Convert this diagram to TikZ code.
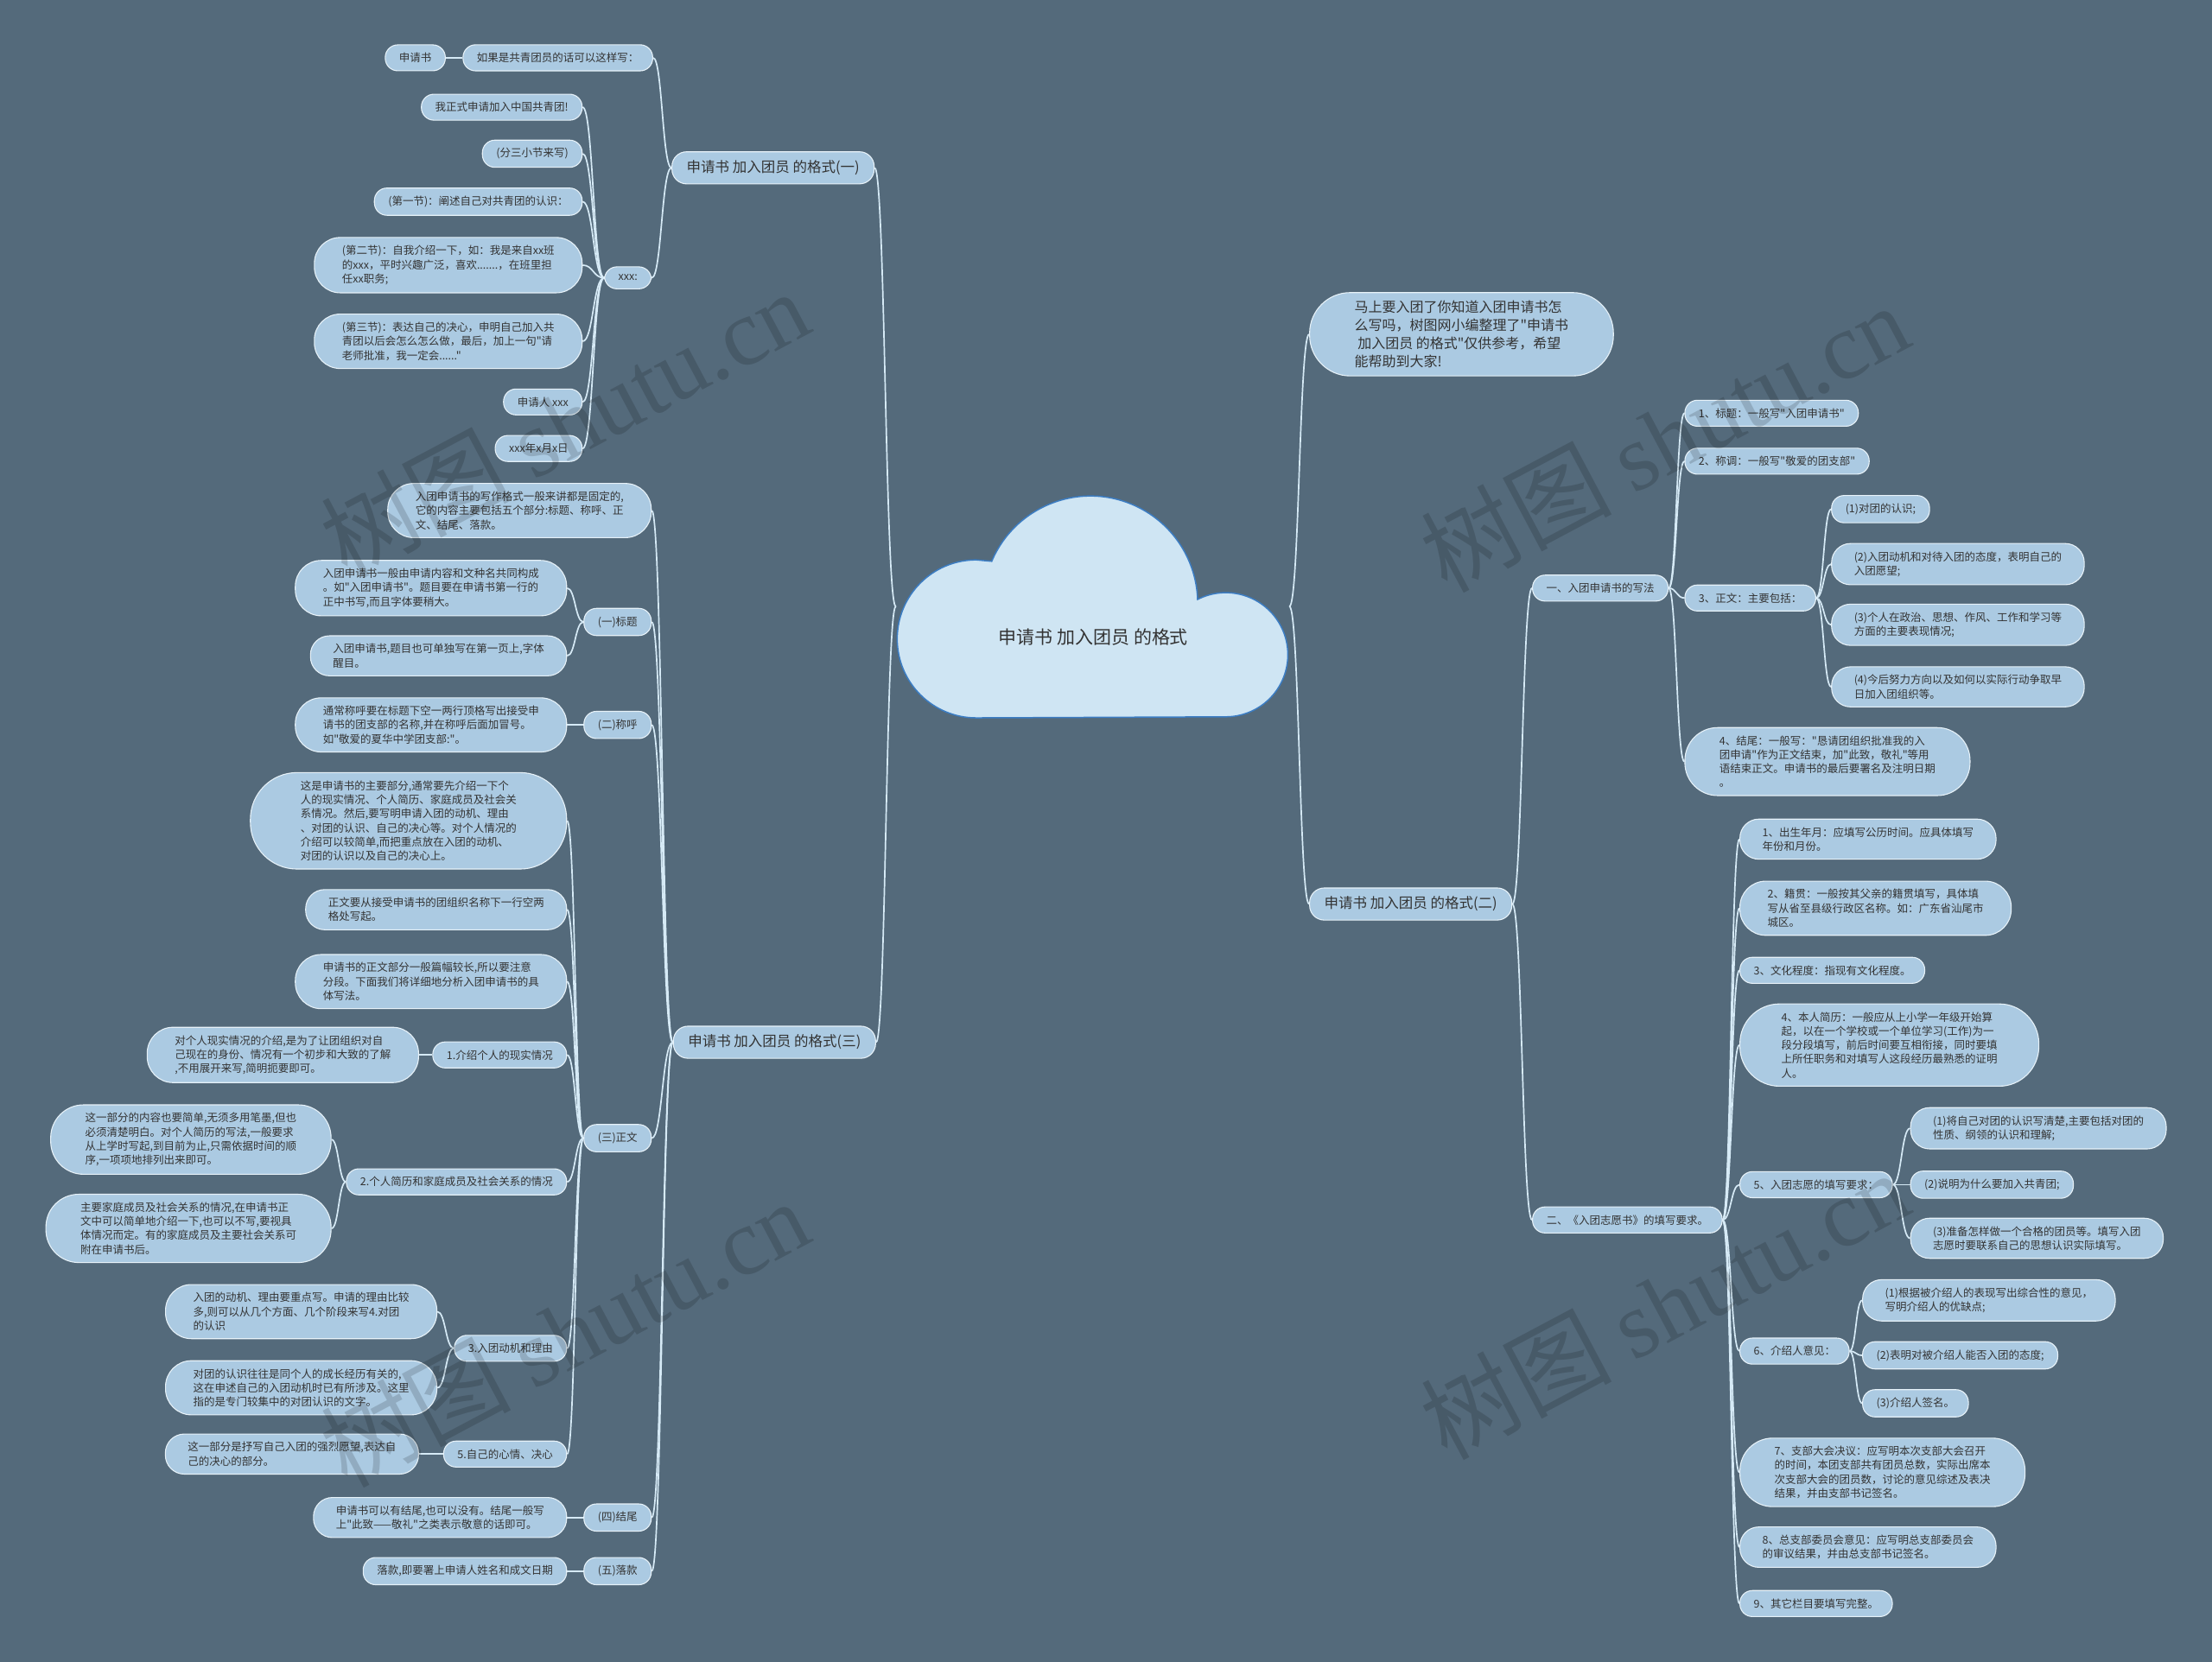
\documentclass[tikz,border=0pt]{standalone}
\usepackage{fontspec}
\setmainfont{Noto Sans CJK SC}[Ligatures=TeXOff]
\newfontfamily\wmlat{Liberation Serif}
\usetikzlibrary{calc,backgrounds}
\definecolor{bg}{HTML}{546A7B}
\definecolor{nfill}{HTML}{ABCAE2}
\definecolor{nline}{HTML}{E6F1F8}
\definecolor{cline}{HTML}{D6EAF6}
\definecolor{txt}{HTML}{333333}
\definecolor{cloudfill}{HTML}{CFE5F3}
\definecolor{cloudline}{HTML}{3C7DC3}
\tikzset{
 nd/.style={rectangle, fill=nfill, draw=nline, line width=1.1pt, inner ysep=9.25pt, text=txt, align=left, font=\fontsize{12.5}{16.3}\selectfont},
 pa/.style={nd, inner xsep=16pt, rounded corners=14.5pt},
 pb/.style={nd, inner xsep=26pt, rounded corners=22pt},
 pc/.style={nd, inner xsep=32pt, rounded corners=30pt},
 pd/.style={nd, inner xsep=40pt, rounded corners=38pt},
 pe/.style={nd, inner xsep=48pt, rounded corners=46pt},
 pf/.style={nd, inner xsep=58pt, rounded corners=54pt},
 br/.style={nd, inner ysep=10pt, inner xsep=17pt, rounded corners=17pt, font=\fontsize{16.5}{21}\selectfont},
 intro/.style={nd, inner ysep=9pt, inner xsep=52pt, rounded corners=47pt, font=\fontsize{16}{21.2}\selectfont},
 cn/.style={draw=cline, line width=1.7pt},
 wm/.style={rotate=28, text=black, text opacity=0.15, font=\fontsize{110}{120}\selectfont},
}
\newcommand\conn[2]{\draw[cn] let \p1=(#1), \p2=(#2) in (\p1) .. controls (0.5*\x1+0.5*\x2,\y1) and (0.5*\x1+0.5*\x2,\y2) .. (\p2);}
\begin{document}
\begin{tikzpicture}[x=1.6327pt,y=-1.6327pt]
\useasboundingbox (0,0) rectangle (1568,1178.4);
% cloud
\draw[fill=cloudfill, draw=cloudline, line width=1.5pt]
 (692,509) arc[start angle=90, end angle=270, radius=56]
 -- (703,398) arc[start angle=-157, end angle=-2, radius=76]
 arc[start angle=-117, end angle=90, radius=44] -- cycle;
\node[font=\fontsize{21}{25}\selectfont, text=txt] (root) at (775,452) {申请书 加入团员 的格式};
\coordinate (cl) at (635,430);
\coordinate (cr) at (914,430);
% left branch 1
\node[br, anchor=east] (l1) at (620,119) {申请书 加入团员 的格式(一)};
\node[pa, anchor=east] (l1a) at (463,41) {如果是共青团员的话可以这样写：};
\node[pa, anchor=east] (l1a1) at (316,41) {申请书};
\node[pa, anchor=east] (l1b) at (462,197) {xxx:};
\node[pa, anchor=east] (x1) at (413,76) {我正式申请加入中国共青团!};
\node[pa, anchor=east] (x2) at (413,109) {(分三小节来写)};
\node[pa, anchor=east] (x3) at (413,143) {(第一节)：阐述自己对共青团的认识：};
\node[pc, anchor=east] (x4) at (413,188) {(第二节)：自我介绍一下，如：我是来自xx班\\的xxx，平时兴趣广泛，喜欢.......，在班里担\\任xx职务;};
\node[pc, anchor=east] (x5) at (413,242) {(第三节)：表达自己的决心，申明自己加入共\\青团以后会怎么怎么做，最后，加上一句"请\\老师批准，我一定会......"};
\node[pa, anchor=east] (x6) at (413,285) {申请人 xxx};
\node[pa, anchor=east] (x7) at (413,318) {xxx年x月x日};
% left branch 3
\node[br, anchor=east] (l3) at (621,739) {申请书 加入团员 的格式(三)};
\node[pc, anchor=east] (t0) at (462,362) {入团申请书的写作格式一般来讲都是固定的,\\它的内容主要包括五个部分:标题、称呼、正\\文、结尾、落款。};
\node[pa, anchor=east] (t1) at (462,441) {(一)标题};
\node[pc, anchor=east] (t1a) at (402,417) {入团申请书一般由申请内容和文种名共同构成\\。如"入团申请书"。题目要在申请书第一行的\\正中书写,而且字体要稍大。};
\node[pb, anchor=east] (t1b) at (402,465) {入团申请书,题目也可单独写在第一页上,字体\\醒目。};
\node[pa, anchor=east] (t2) at (462,514) {(二)称呼};
\node[pc, anchor=east] (t2a) at (402,514) {通常称呼要在标题下空一两行顶格写出接受申\\请书的团支部的名称,并在称呼后面加冒号。\\如"敬爱的夏华中学团支部:"。};
\node[pa, anchor=east] (t3) at (462,807) {(三)正文};
\node[pf, anchor=east] (t3a) at (402,582) {这是申请书的主要部分,通常要先介绍一下个\\人的现实情况、个人简历、家庭成员及社会关\\系情况。然后,要写明申请入团的动机、理由\\、对团的认识、自己的决心等。对个人情况的\\介绍可以较简单,而把重点放在入团的动机、\\对团的认识以及自己的决心上。};
\node[pb, anchor=east] (t3b) at (402,645) {正文要从接受申请书的团组织名称下一行空两\\格处写起。};
\node[pc, anchor=east] (t3c) at (402,696) {申请书的正文部分一般篇幅较长,所以要注意\\分段。下面我们将详细地分析入团申请书的具\\体写法。};
\node[pa, anchor=east] (t3d) at (402,748) {1.介绍个人的现实情况};
\node[pc, anchor=east] (t3d1) at (297,748) {对个人现实情况的介绍,是为了让团组织对自\\己现在的身份、情况有一个初步和大致的了解\\,不用展开来写,简明扼要即可。};
\node[pa, anchor=east] (t3e) at (402,838) {2.个人简历和家庭成员及社会关系的情况};
\node[pd, anchor=east] (t3e1) at (235,808) {这一部分的内容也要简单,无须多用笔墨,但也\\必须清楚明白。对个人简历的写法,一般要求\\从上学时写起,到目前为止,只需依据时间的顺\\序,一项项地排列出来即可。};
\node[pd, anchor=east] (t3e2) at (235,871) {主要家庭成员及社会关系的情况,在申请书正\\文中可以简单地介绍一下,也可以不写,要视具\\体情况而定。有的家庭成员及主要社会关系可\\附在申请书后。};
\node[pa, anchor=east] (t3f) at (402,956) {3.入团动机和理由};
\node[pc, anchor=east] (t3f1) at (310,930) {入团的动机、理由要重点写。申请的理由比较\\多,则可以从几个方面、几个阶段来写4.对团\\的认识};
\node[pc, anchor=east] (t3f2) at (310,984) {对团的认识往往是同个人的成长经历有关的,\\这在申述自己的入团动机时已有所涉及。这里\\指的是专门较集中的对团认识的文字。};
\node[pa, anchor=east] (t3g) at (402,1031) {5.自己的心情、决心};
\node[pb, anchor=east] (t3g1) at (297,1031) {这一部分是抒写自己入团的强烈愿望,表达自\\己的决心的部分。};
\node[pa, anchor=east] (t4) at (462,1076) {(四)结尾};
\node[pb, anchor=east] (t4a) at (402,1076) {申请书可以有结尾,也可以没有。结尾一般写\\上"此致——敬礼"之类表示敬意的话即可。};
\node[pa, anchor=east] (t5) at (462,1114) {(五)落款};
\node[pa, anchor=east] (t5a) at (402,1114) {落款,即要署上申请人姓名和成文日期};
% right side
\node[intro, anchor=west] (intro) at (928,237) {马上要入团了你知道入团申请书怎\\么写吗，树图网小编整理了"申请书\\~加入团员 的格式"仅供参考，希望\\能帮助到大家!};
\node[br, anchor=west] (r2) at (928,641) {申请书 加入团员 的格式(二)};
\node[pa, anchor=west] (r1) at (1086,417) {一、入团申请书的写法};
\node[pa, anchor=west] (r1a) at (1194,293) {1、标题：一般写"入团申请书"};
\node[pa, anchor=west] (r1b) at (1194,327) {2、称调：一般写"敬爱的团支部"};
\node[pa, anchor=west] (r1c) at (1194,424) {3、正文：主要包括：};
\node[pa, anchor=west] (r1c1) at (1298,361) {(1)对团的认识;};
\node[pb, anchor=west] (r1c2) at (1298,400) {(2)入团动机和对待入团的态度，表明自己的\\入团愿望;};
\node[pb, anchor=west] (r1c3) at (1298,443) {(3)个人在政治、思想、作风、工作和学习等\\方面的主要表现情况;};
\node[pb, anchor=west] (r1c4) at (1298,487) {(4)今后努力方向以及如何以实际行动争取早\\日加入团组织等。};
\node[pd, anchor=west] (r1d) at (1194,540) {4、结尾：一般写："恳请团组织批准我的入\\团申请"作为正文结束，加"此致，敬礼"等用\\语结束正文。申请书的最后要署名及注明日期\\。};
\node[pa, anchor=west] (r2n) at (1086,865) {二、《入团志愿书》的填写要求。};
\node[pb, anchor=west] (s1) at (1233,595) {1、出生年月：应填写公历时间。应具体填写\\年份和月份。};
\node[pc, anchor=west] (s2) at (1233,644) {2、籍贯：一般按其父亲的籍贯填写，具体填\\写从省至县级行政区名称。如：广东省汕尾市\\城区。};
\node[pa, anchor=west] (s3) at (1233,688) {3、文化程度：指现有文化程度。};
\node[pe, anchor=west] (s4) at (1233,741) {4、本人简历：一般应从上小学一年级开始算\\起，以在一个学校或一个单位学习(工作)为一\\段分段填写，前后时间要互相衔接，同时要填\\上所任职务和对填写人这段经历最熟悉的证明\\人。};
\node[pa, anchor=west] (s5) at (1233,840) {5、入团志愿的填写要求：};
\node[pb, anchor=west] (s51) at (1354,800) {(1)将自己对团的认识写清楚,主要包括对团的\\性质、纲领的认识和理解;};
\node[pa, anchor=west] (s52) at (1354,840) {(2)说明为什么要加入共青团;};
\node[pb, anchor=west] (s53) at (1354,878) {(3)准备怎样做一个合格的团员等。填写入团\\志愿时要联系自己的思想认识实际填写。};
\node[pa, anchor=west] (s6) at (1233,958) {6、介绍人意见：};
\node[pb, anchor=west] (s61) at (1320,922) {(1)根据被介绍人的表现写出综合性的意见，\\写明介绍人的优缺点;};
\node[pa, anchor=west] (s62) at (1320,961) {(2)表明对被介绍人能否入团的态度;};
\node[pa, anchor=west] (s63) at (1320,995) {(3)介绍人签名。};
\node[pd, anchor=west] (s7) at (1233,1044) {7、支部大会决议：应写明本次支部大会召开\\的时间，本团支部共有团员总数，实际出席本\\次支部大会的团员数，讨论的意见综述及表决\\结果，并由支部书记签名。};
\node[pb, anchor=west] (s8) at (1233,1097) {8、总支部委员会意见：应写明总支部委员会\\的审议结果，并由总支部书记签名。};
\node[pa, anchor=west] (s9) at (1233,1137) {9、其它栏目要填写完整。};
% connectors
\begin{scope}[on background layer]
\fill[bg] (0,0) rectangle (1568,1178.4);
\conn{cl}{l1.east} \conn{cl}{l3.east} \conn{cr}{intro.west} \conn{cr}{r2.west}
\conn{l1.west}{l1a.east} \conn{l1.west}{l1b.east} \conn{l1a.west}{l1a1.east}
\foreach \c in {x1,x2,x3,x4,x5,x6,x7} {\conn{l1b.west}{\c.east}}
\foreach \c in {t0,t1,t2,t3,t4,t5} {\conn{l3.west}{\c.east}}
\conn{t1.west}{t1a.east} \conn{t1.west}{t1b.east} \conn{t2.west}{t2a.east}
\foreach \c in {t3a,t3b,t3c,t3d,t3e,t3f,t3g} {\conn{t3.west}{\c.east}}
\conn{t3d.west}{t3d1.east} \conn{t3e.west}{t3e1.east} \conn{t3e.west}{t3e2.east}
\conn{t3f.west}{t3f1.east} \conn{t3f.west}{t3f2.east} \conn{t3g.west}{t3g1.east}
\conn{t4.west}{t4a.east} \conn{t5.west}{t5a.east}
\conn{r2.east}{r1.west} \conn{r2.east}{r2n.west}
\foreach \c in {r1a,r1b,r1c,r1d} {\conn{r1.east}{\c.west}}
\foreach \c in {r1c1,r1c2,r1c3,r1c4} {\conn{r1c.east}{\c.west}}
\foreach \c in {s1,s2,s3,s4,s5,s6,s7,s8,s9} {\conn{r2n.east}{\c.west}}
\foreach \c in {s51,s52,s53} {\conn{s5.east}{\c.west}}
\foreach \c in {s61,s62,s63} {\conn{s6.east}{\c.west}}
\end{scope}
% watermarks
\node[wm] (wm1) at (400,300) {树图 {\wmlat shutu.cn}};
\node[wm] (wm2) at (400,945) {树图 {\wmlat shutu.cn}};
\node[wm] (wm3) at (1180,310) {树图 {\wmlat shutu.cn}};
\node[wm] (wm4) at (1180,925) {树图 {\wmlat shutu.cn}};
\end{tikzpicture}
\end{document}
